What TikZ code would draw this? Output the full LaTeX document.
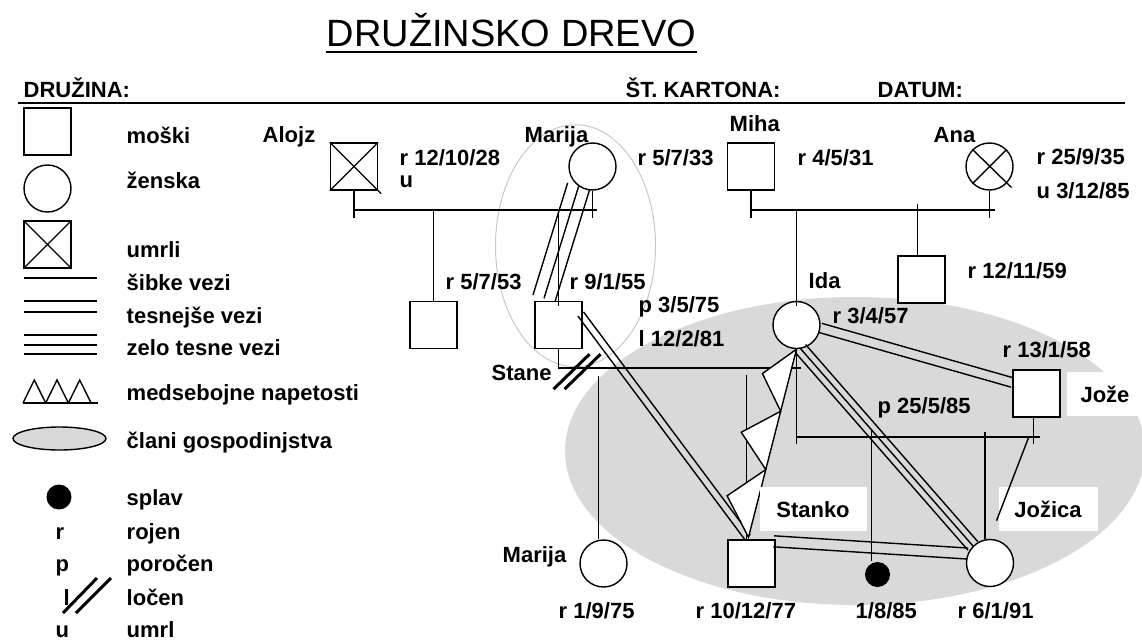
\documentclass[tikz,border=0pt]{standalone}
\usepackage{fontspec}
\setmainfont{Liberation Sans}
\usetikzlibrary{calc}

\definecolor{hhgray}{RGB}{217,217,217}
\definecolor{ringgray}{RGB}{200,200,200}

\tikzset{
  male/.style={draw, fill=white, minimum size=47pt, inner sep=0pt},
  female/.style={male, circle},
  lost/.style={circle, fill, minimum size=25pt, inner sep=0pt},
  lbl/.style={anchor=base west, inner sep=0pt, font=\bfseries\fontsize{22}{26}\selectfont},
  namebox/.style={fill=white, inner sep=0pt, minimum height=44pt, text height=16pt,
    text depth=0pt, font=\bfseries\fontsize{22}{26}\selectfont},
  cut/.style={line width=3pt},
}

\newcommand{\tieline}[3]{\draw ($(#1)!#3!90:(#2)$) -- ($(#2)!#3!-90:(#1)$);}

\begin{document}
\begin{tikzpicture}[x=1pt, y=-1pt, line width=1.4pt]
\useasboundingbox (0,0) rectangle (1142,642);

\fill[hhgray] (855,451) ellipse (290 and 154);

\node[anchor=base west, inner sep=0pt, font=\fontsize{38}{44}\selectfont] (title) at (326,47) {DRUŽINSKO DREVO};
\draw[line width=2.5pt] ([yshift=-5pt]title.base west) -- ([yshift=-5pt]title.base east);
\node[lbl] (hdfam) at (23,97) {DRUŽINA:};
\node[lbl] (hdcard) at (625,97) {ŠT. KARTONA:};
\node[lbl] (hddate) at (877,97) {DATUM:};
\draw[line width=2pt] (18,103) -- (1125,103);

% legend
\node[male] (legm) at (47.5,131.5) {};
\node[female] (legf) at (47.5,188.5) {};
\node[male] (legd) at (47.5,244.5) {};
\draw (legd.north west) -- (legd.south east) (legd.north east) -- (legd.south west);
\draw (24,278) -- (97,278);
\draw (24,301) -- (97,301) (24,312) -- (97,312);
\draw (24,335) -- (97,335) (24,345) -- (97,345) (24,354) -- (97,354);
\draw (23,403) -- (98,403);
\foreach \i in {0,1,2}
  \draw (23+22.7*\i,403) -- (34.3+22.7*\i,380) -- (45.7+22.7*\i,403);
\filldraw[fill=hhgray] (59.5,438.5) ellipse (46.5 and 11.5);
\node[lost] (legs) at (59,497) {};
\draw[cut] (63,613) -- (97,578) (76,613) -- (111,578);
\foreach \t/\y in {moški/143, ženska/188, umrli/257, šibke vezi/290, tesnejše vezi/323,
    zelo tesne vezi/355, medsebojne napetosti/400, člani gospodinjstva/448,
    splav/505, rojen/539, poročen/571, ločen/605, umrl/637}
  \node[lbl] (key\y) at (126,\y) {\t};
\node[lbl] (kr) at (55,539) {r};
\node[lbl] (kp) at (55,571) {p};
\node[lbl] (kl) at (63,605) {l};
\node[lbl] (ku) at (55,637) {u};

% persons
\node[male] (alojz) at (354,166.5) {};
\node[female] (marija) at (592.5,166.5) {};
\node[male] (miha) at (751,166.5) {};
\node[female] (ana) at (989.5,166.5) {};
\node[male] (sin53) at (433.5,325) {};
\node[male] (stane) at (558.5,325) {};
\node[female] (ida) at (796.5,325) {};
\node[male] (sin59) at (921.5,279.5) {};
\node[male] (joze) at (1036.5,393.5) {};
\node[female] (marija2) at (603.5,563.5) {};
\node[male] (stanko) at (751.5,563.5) {};
\node[lost] (splav) at (877.5,574.5) {};
\node[female] (jozica) at (990,563) {};

\draw (alojz.north west) -- ($(alojz.south east)+(3,3)$) (alojz.north east) -- (alojz.south west);
\draw (ana.north west) -- ($(ana.south east)+(5,4)$) (ana.north east) -- (ana.south west);

\draw[ringgray, line width=1pt] ($(marija)!0.5!(stane)$) ellipse (80 and 121);

% families
\coordinate (AM) at (0,210);
\coordinate (MA) at (0,210);
\coordinate (SI) at (0,368);
\coordinate (IJ) at (0,437);

\draw (alojz.south) -- ++(0,27) (marija.south) -- ++(0,27);
\draw (alojz.south |- AM) -- (marija.south |- AM) -- ++(4,0);
\draw (sin53.north) -- (sin53.north |- AM);
\draw ([yshift=-5pt]stane.north) -- (stane.north |- AM);

\draw (miha.south) -- ++(0,27) (ana.south) -- ++(0,27);
\draw (miha.south |- MA) -- (ana.south |- MA) -- ++(5,0);
\draw ([yshift=-5pt]ida.north) -- (ida.north |- MA);
\draw ([xshift=-4pt]sin59.north) -- ++(0,-51);

\draw (stane.south) -- (stane.south |- SI) -- (ida.south |- SI) -- ++(4,0);
\draw[cut] ($(stane.south)+(-5,40)$) -- ++(36,-35) ($(stane.south)+(6,40)$) -- ++(36,-35);
\draw ([xshift=-5pt]marija2.north) -- ++(0,-163);
\draw ([xshift=-5pt]stanko.north) -- ++(0,-164);

\draw (ida.south) -- ++(0,95);
\draw ([xshift=-3pt]joze.south) -- ++(0,26);
\draw (ida.south |- IJ) -- (joze.south |- IJ) -- ++(3,0);
\draw ([xshift=-6pt]splav.north) -- ++(0,-130);
\draw ([xshift=-5pt]jozica.north) -- ++(0,-107);

% relations
\coordinate (ms1) at (marija.235);
\coordinate (ms2) at ($(stane.north)+(-14.5,-2.5)$);
\tieline{ms1}{ms2}{11.5pt}
\tieline{ms1}{ms2}{0pt}
\tieline{ms1}{ms2}{-11.5pt}

\coordinate (ss1) at ($(stane.east)+(-2,-11)$);
\coordinate (ss2) at ($(stanko.north)+(-4,-2)$);
\tieline{ss1}{ss2}{3.5pt}
\tieline{ss1}{ss2}{-3.5pt}

\coordinate (ij1) at ($(ida.east)+(0,3)$);
\coordinate (ij2) at ($(joze.west)+(0,-11)$);
\tieline{ij1}{ij2}{4.8pt}
\tieline{ij1}{ij2}{-4.8pt}

\coordinate (ix1) at (ida.-80);
\coordinate (ix2) at (jozica.135);
\tieline{ix1}{ix2}{6.5pt}
\tieline{ix1}{ix2}{0pt}
\tieline{ix1}{ix2}{-6.5pt}

\coordinate (sj1) at ($(stanko.north east)+(-2,2)$);
\coordinate (sj2) at (jozica.157);
\tieline{sj1}{sj2}{5.5pt}
\tieline{sj1}{sj2}{-5.5pt}

\coordinate (nA) at ($(stanko.north)+(-3,-2)$);
\coordinate (nB) at (ida.south);
\filldraw[fill=white] (nA) -- ($(nA)!0.18!(nB)!31pt!90:(nB)$) -- ($(nA)!0.36!(nB)$)
  -- ($(nA)!0.515!(nB)!33pt!90:(nB)$) -- ($(nA)!0.67!(nB)$)
  -- ($(nA)!0.835!(nB)!27pt!90:(nB)$) -- (nB) -- cycle;

% names and dates
\node[lbl] (nalojz) at (262,142) {Alojz};
\node[lbl] (dalojz) at (399,165) {r 12/10/28};
\node[lbl] (ualojz) at (399,187) {u};
\node[lbl] (nmarija) at (524,142) {Marija};
\node[lbl] (dmarija) at (637,165) {r 5/7/33};
\node[lbl] (nmiha) at (729,131) {Miha};
\node[lbl] (dmiha) at (797,165) {r 4/5/31};
\node[lbl] (nana) at (933,142) {Ana};
\node[lbl] (dana) at (1036,164) {r 25/9/35};
\node[lbl] (uana) at (1036,198) {u 3/12/85};
\node[lbl] (dsin53) at (445,289) {r 5/7/53};
\node[lbl] (dstane) at (569,289) {r 9/1/55};
\node[lbl] (pstane) at (638,312) {p 3/5/75};
\node[lbl] (lstane) at (638,346) {l 12/2/81};
\node[lbl] (nstane) at (491,380) {Stane};
\node[lbl] (nida) at (808,288) {Ida};
\node[lbl] (dida) at (832,323) {r 3/4/57};
\node[lbl] (dsin59) at (967,278) {r 12/11/59};
\node[lbl] (djoze) at (1002,357) {r 13/1/58};
\node[lbl] (pjoze) at (877,413) {p 25/5/85};
\node[lbl] (nmarija2) at (502,562) {Marija};
\node[lbl] (dmarija2) at (558,618) {r 1/9/75};
\node[lbl] (dstanko) at (695,618) {r 10/12/77};
\node[lbl] (dsplav) at (855,618) {1/8/85};
\node[lbl] (djozica) at (957,618) {r 6/1/91};

\node[namebox, minimum width=107pt] (nstanko) at (813,509) {Stanko};
\node[namebox, minimum width=99pt] (njozica) at (1048,509) {Jožica};
\node[namebox, minimum width=76pt] (njoze) at (1105,394) {Jože};

\draw ($(joze.south)+(-8,20)$) -- ++(-32,83);
\end{tikzpicture}
\end{document}
